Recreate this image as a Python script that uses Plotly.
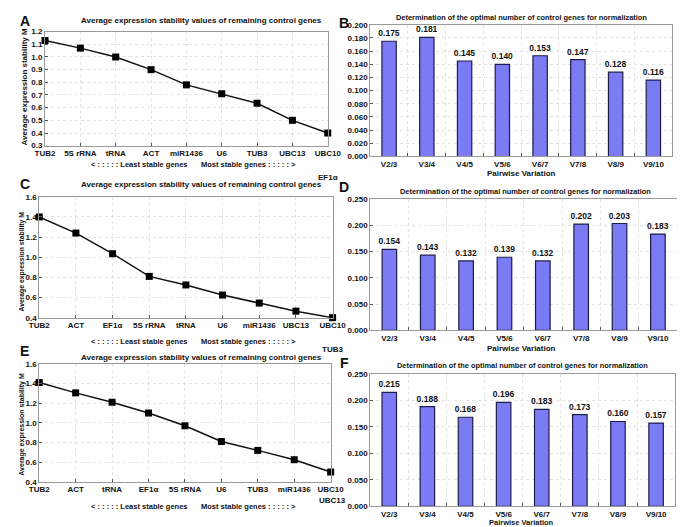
import plotly.graph_objects as go

W, H = 685, 527

# ---------------- data ----------------
genes_a = ["TUB2", "5S rRNA", "tRNA", "ACT", "miR1436", "U6", "TUB3", "UBC13", "UBC10"]
m_a = [1.13, 1.07, 1.00, 0.90, 0.78, 0.71, 0.635, 0.50, 0.40]
extra_a = "EF1α"

genes_c = ["TUB2", "ACT", "EF1α", "5S rRNA", "tRNA", "U6", "miR1436", "UBC13", "UBC10"]
m_c = [1.40, 1.24, 1.035, 0.81, 0.725, 0.625, 0.545, 0.465, 0.40]
extra_c = "TUB3"

genes_e = ["TUB2", "ACT", "tRNA", "EF1α", "5S rRNA", "U6", "TUB3", "miR1436", "UBC10"]
m_e = [1.41, 1.305, 1.21, 1.10, 0.97, 0.81, 0.72, 0.625, 0.50]
extra_e = "UBC13"

pairs = ["V2/3", "V3/4", "V4/5", "V5/6", "V6/7", "V7/8", "V8/9", "V9/10"]
v_b = [0.175, 0.181, 0.145, 0.140, 0.153, 0.147, 0.128, 0.116]
v_d = [0.154, 0.143, 0.132, 0.139, 0.132, 0.202, 0.203, 0.183]
v_f = [0.215, 0.188, 0.168, 0.196, 0.183, 0.173, 0.160, 0.157]

title_m = "Average expression stability values of remaining control genes"
title_v = "Determination of the optimal number of control genes for normalization"
ytitle_m = "Average expression stability M"
xtitle_v = "Pairwise Variation"
least = "< : : : : : Least stable genes"
most = "Most stable genes : : : : : >"

FONT = "Liberation Sans"
BAR = "#7b7bf4"
EDGE = "#1c1c4c"


def px(x):
    return x / W


def py(y):
    return 1 - y / H


fig = go.Figure()

# panel layouts in pixels: (left, right, top, bottom)
panels = {
    1: (28, 321, 20, 136),
    2: (365, 678, 13, 147),
    3: (22, 326, 188, 311),
    4: (365, 683, 190, 324),
    5: (22, 324, 358, 478),
    6: (365, 681, 368, 503),
}

line_sets = [(1, genes_a, m_a, [0.3, 1.2], 0.1), (3, genes_c, m_c, [0.4, 1.6], 0.2),
             (5, genes_e, m_e, [0.4, 1.6], 0.2)]
bar_sets = [(2, v_b, [0, 0.2], 0.02), (4, v_d, [0, 0.25], 0.05), (6, v_f, [0, 0.25], 0.05)]

axis_common = dict(
    showline=True, linecolor="#9a9a9a", linewidth=1, mirror=True,
    showgrid=True, gridcolor="#e2e2e2", griddash="dot", gridwidth=1,
    ticks="inside", ticklen=3, tickcolor="#555555",
    tickfont=dict(family=FONT, size=8, color="#111111", weight="bold"),
    zeroline=False,
)

for n, genes, vals, yr, dt in line_sets:
    idx = list(range(len(genes)))
    fig.add_trace(go.Scatter(
        x=idx, y=vals, mode="lines+markers",
        line=dict(color="#111111", width=1.5),
        marker=dict(symbol="square", size=7, color="#000000"),
        xaxis=f"x{n}", yaxis=f"y{n}", showlegend=False, cliponaxis=False,
    ))
    l, r, t, b = panels[n]
    fig.update_layout(**{
        f"xaxis{n}": dict(domain=[px(l), px(r)], anchor=f"y{n}", range=[0, len(genes) - 1],
                          tickvals=idx, ticktext=genes, **axis_common),
        f"yaxis{n}": dict(domain=[py(b), py(t)], anchor=f"x{n}", range=yr, dtick=dt,
                          tickformat=".1f", **axis_common),
    })

for n, vals, yr, dt in bar_sets:
    fig.add_trace(go.Bar(
        x=pairs, y=vals, width=0.38,
        marker=dict(color=BAR, line=dict(color=EDGE, width=1.2)),
        text=[f"{v:.3f}" for v in vals], textposition="outside", cliponaxis=False,
        constraintext="none",
        textfont=dict(family=FONT, size=8.5, color="#111111", weight="bold"),
        xaxis=f"x{n}", yaxis=f"y{n}", showlegend=False,
    ))
    l, r, t, b = panels[n]
    fig.update_layout(**{
        f"xaxis{n}": dict(domain=[px(l), px(r)], anchor=f"y{n}", type="category",
                          tickson="boundaries", **axis_common),
        f"yaxis{n}": dict(domain=[py(b), py(t)], anchor=f"x{n}", range=yr, dtick=dt,
                          tickformat=".3f", **axis_common),
    })

ann = []


def text(x, y, s, size=8, angle=0, bold=True):
    ann.append(dict(x=px(x), y=py(y), xref="paper", yref="paper", text=f"<b>{s}</b>" if bold else s,
                    showarrow=False, xanchor="center", yanchor="middle", textangle=angle,
                    font=dict(family=FONT, size=size, color="#111111")))


# panel letters
for letter, (x, y) in {"A": (7, 9), "B": (338, 11), "C": (7, 175), "D": (338, 178),
                       "E": (7, 345), "F": (338, 357)}.items():
    text(x, y, letter, size=14)

# titles
text(190, 9, title_m, size=8)
text(522, 6, title_v, size=7.4)
text(190, 175, title_m, size=8)
text(526, 183, title_v, size=7.4)
text(190, 352, title_m, size=8)
text(523, 360, title_v, size=7.4)

# y titles
text(7, 76, ytitle_m, size=8, angle=-90)
text(4, 254, ytitle_m, size=6.8, angle=-90)
text(4, 419, ytitle_m, size=7, angle=-90)

# pairwise variation x titles
text(522, 164, xtitle_v, size=8)
text(522, 342, xtitle_v, size=8)
text(522, 519, xtitle_v, size=7.5)

# least / most stable
for yy in (155, 335, 503):
    text(125, yy, least, size=7.5)
    text(239, yy, most, size=7.5)

# extra genes under last tick
text(321, 168, extra_a, size=8)
text(326, 343, extra_c, size=8)
text(326, 497, extra_e, size=8)

fig.update_layout(
    width=W, height=H, margin=dict(l=0, r=0, t=0, b=0),
    paper_bgcolor="white", plot_bgcolor="white",
    annotations=ann, bargap=0.6,
    font=dict(family=FONT, size=8),
)

fig.write_html("out.html")
